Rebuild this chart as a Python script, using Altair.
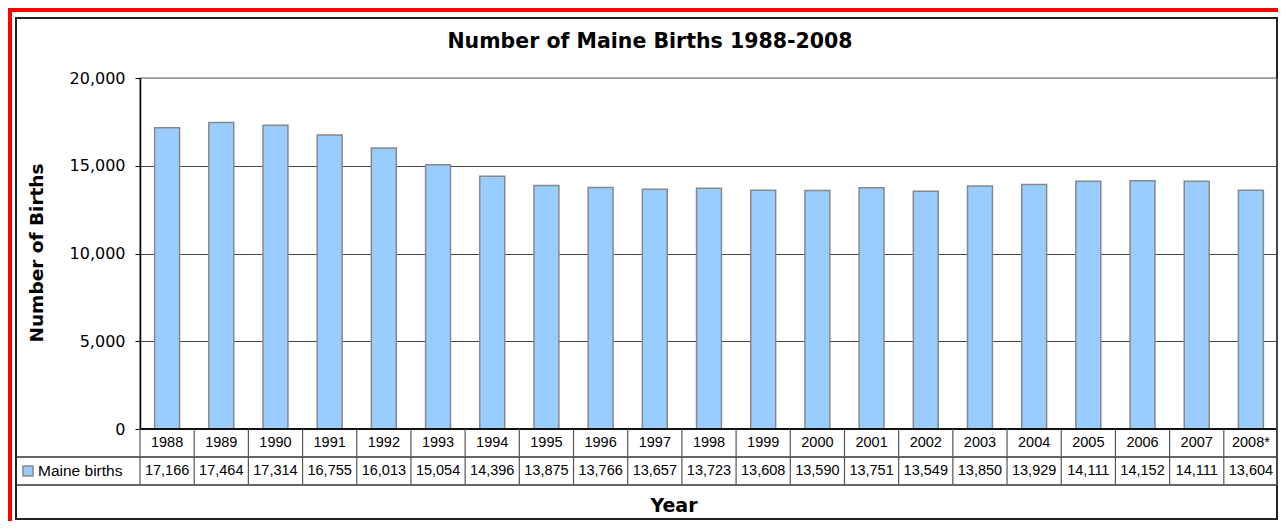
import altair as alt
import pandas as pd

years = ["1988", "1989", "1990", "1991", "1992", "1993", "1994", "1995", "1996", "1997",
         "1998", "1999", "2000", "2001", "2002", "2003", "2004", "2005", "2006", "2007", "2008*"]
births = [17166, 17464, 17314, 16755, 16013, 15054, 14396, 13875, 13766, 13657,
          13723, 13608, 13590, 13751, 13549, 13850, 13929, 14111, 14152, 14111, 13604]
y_ticks = [0, 5000, 10000, 15000, 20000]
series_name = "Maine births"
title_text = "Number of Maine Births 1988-2008"
y_title = "Number of Births"
x_title = "Year"

df = pd.DataFrame({"year": years, "births": births,
                   "label": [f"{v:,}" for v in births]})
one = pd.DataFrame({"a": [0]})

W, H = 1138, 351
TFONT = "Liberation Sans"
HFONT = "DejaVu Sans"

xs = alt.Scale(domain=years, paddingInner=0, paddingOuter=0)
base = alt.Chart(df)

frame = alt.Chart(one).mark_rect(fillOpacity=0, stroke="#222", strokeWidth=2).encode(
    x=alt.value(-124), x2=alt.value(W - 1), y=alt.value(-60), y2=alt.value(441))
red_left = alt.Chart(one).mark_rule(color="#ff0000", strokeWidth=4).encode(
    x=alt.value(-130), y=alt.value(-70), y2=alt.value(460))
red_top = alt.Chart(one).mark_rule(color="#ff0000", strokeWidth=4).encode(
    y=alt.value(-68), x=alt.value(-132), x2=alt.value(W))

bars = base.mark_bar(fill="#99CCFF", stroke="#888888", strokeWidth=1.5,
                     width=alt.RelativeBandSize(0.46)).encode(
    x=alt.X("year:N", scale=xs, axis=None, sort=years),
    y=alt.Y("births:Q", scale=alt.Scale(domain=[0, 20000], nice=False),
            axis=alt.Axis(values=y_ticks, format=",d", title=None,
                          labelFont=HFONT, labelFontSize=16, labelColor="#000",
                          labelPadding=10, tickSize=5, tickColor="#000",
                          domainColor="#000", domainWidth=1.5,
                          grid=True,
                          gridColor={"condition": {"test": "datum.value === 20000", "value": "#999"},
                                     "value": "#444"},
                          gridWidth=1)),
)

zero_line = alt.Chart(one).mark_rule(color="#111", strokeWidth=2).encode(
    y=alt.value(H), x=alt.value(0), x2=alt.value(W))
hline1 = alt.Chart(one).mark_rule(color="#333", strokeWidth=1.5).encode(
    y=alt.value(379), x=alt.value(-123), x2=alt.value(W))
hline2 = alt.Chart(one).mark_rule(color="#333", strokeWidth=1.5).encode(
    y=alt.value(407), x=alt.value(-123), x2=alt.value(W))
vlines = base.mark_rule(color="#555", strokeWidth=1.2).encode(
    x=alt.X("year:N", scale=xs, axis=None, sort=years, bandPosition=0),
    y=alt.value(H), y2=alt.value(407))
vright = alt.Chart(one).mark_rule(color="#555", strokeWidth=1.5).encode(
    x=alt.value(W - 1), y=alt.value(0), y2=alt.value(407))

year_text = base.mark_text(font=TFONT, fontSize=14.5, color="#000", baseline="middle").encode(
    x=alt.X("year:N", scale=xs, axis=None, sort=years), y=alt.value(365), text="year:N")
val_text = base.mark_text(font=TFONT, fontSize=14.5, color="#000", baseline="middle").encode(
    x=alt.X("year:N", scale=xs, axis=None, sort=years), y=alt.value(393), text="label:N")

swatch = alt.Chart(one).mark_square(size=100, fill="#99CCFF", stroke="#888", strokeWidth=1.5, opacity=1).encode(
    x=alt.value(-112), y=alt.value(393))
legend_text = alt.Chart(pd.DataFrame({"t": [series_name]})).mark_text(
    font=TFONT, fontSize=15.5, color="#000", align="left", baseline="middle").encode(
    x=alt.value(-102), y=alt.value(393), text="t:N")

title = alt.Chart(pd.DataFrame({"t": [title_text]})).mark_text(
    font=HFONT, fontSize=20.5, fontWeight="bold", color="#000", baseline="middle").encode(
    x=alt.value(510), y=alt.value(-36), text="t:N")
ytitle = alt.Chart(pd.DataFrame({"t": [y_title]})).mark_text(
    font=HFONT, fontSize=18.5, fontWeight="bold", color="#000", baseline="middle", angle=270).encode(
    x=alt.value(-103), y=alt.value(175), text="t:N")
xtitle = alt.Chart(pd.DataFrame({"t": [x_title]})).mark_text(
    font=HFONT, fontSize=19, fontWeight="bold", color="#000", baseline="middle").encode(
    x=alt.value(534), y=alt.value(428), text="t:N")

chart = alt.layer(
    red_left, red_top, frame, bars, zero_line, hline1, hline2, vlines, vright,
    year_text, val_text, swatch, legend_text, title, ytitle, xtitle
).properties(
    width=W, height=H,
    padding={"left": 132, "top": 70, "right": 0, "bottom": 92},
    autosize="none", background="white"
).configure_view(stroke="#999", strokeWidth=1.5)

chart.save("out.html", embed_options={"renderer": "svg", "actions": False})
